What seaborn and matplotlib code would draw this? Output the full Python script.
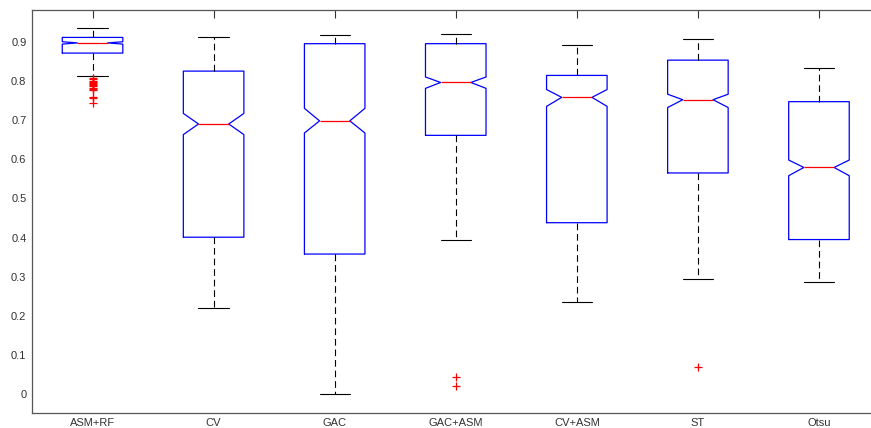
import numpy as np
import seaborn as sns
import matplotlib
matplotlib.use("Agg")
import matplotlib.pyplot as plt

methods = ["ASM+RF", "CV", "GAC", "GAC+ASM", "CV+ASM", "ST", "Otsu"]

# five-number summaries + notch limits
whislo = [0.813, 0.219, 0.001, 0.395, 0.235, 0.295, 0.286]
q1     = [0.871, 0.401, 0.358, 0.661, 0.438, 0.565, 0.395]
cilo   = [0.894, 0.663, 0.667, 0.781, 0.735, 0.732, 0.558]
med    = [0.897, 0.690, 0.698, 0.796, 0.758, 0.752, 0.579]
cihi   = [0.900, 0.717, 0.730, 0.810, 0.778, 0.766, 0.598]
q3     = [0.911, 0.825, 0.895, 0.895, 0.814, 0.853, 0.747]
whishi = [0.935, 0.911, 0.918, 0.919, 0.891, 0.908, 0.832]

outliers = [
    [0.808, 0.805, 0.801, 0.798, 0.795, 0.792, 0.789, 0.786, 0.783, 0.780,
     0.778, 0.758, 0.756, 0.743],
    [], [],
    [0.043, 0.022],
    [],
    [0.070],
    [],
]

stats = []
for i, name in enumerate(methods):
    stats.append(dict(label=name, whislo=whislo[i], q1=q1[i], cilo=cilo[i],
                      med=med[i], cihi=cihi[i], q3=q3[i], whishi=whishi[i],
                      fliers=outliers[i]))

sns.set_style("white")
plt.rcParams["font.family"] = ["Liberation Sans", "DejaVu Sans"]

fig = plt.figure(figsize=(8.71, 4.28), dpi=100)
ax = fig.add_axes([32 / 871, 1 - 412.7 / 428, 847.5 / 871, 402.7 / 428])

ax.bxp(stats, positions=np.arange(1, len(methods) + 1), widths=0.5,
       shownotches=True, patch_artist=False,
       boxprops=dict(color="#0000ff", linewidth=0.9),
       medianprops=dict(color="#ff0000", linewidth=0.9),
       whiskerprops=dict(color="black", linewidth=0.8, linestyle=(0, (6, 3.5))),
       capprops=dict(color="black", linewidth=0.8),
       flierprops=dict(marker="+", markeredgecolor="#ff0000", markersize=6,
                       markeredgewidth=0.9, linestyle="none"))

ax.set_xlim(0.5, 7.5)
ax.set_ylim(-0.047, 0.981)
ax.set_yticks(np.arange(0, 1.0, 0.1))
ax.set_yticklabels(["0"] + [f"{v:.1f}" for v in np.arange(0.1, 1.0, 0.1)])
ax.set_xticks(np.arange(1, len(methods) + 1))
ax.set_xticklabels(methods)

ax.tick_params(direction="in", length=6, width=0.8, colors="#333333",
               labelsize=8, top=True, right=False, pad=4)
for s in ax.spines.values():
    s.set_color("#555555")
    s.set_linewidth(0.9)
ax.spines["right"].set_visible(False)

fig.savefig("out.png", dpi=100)
